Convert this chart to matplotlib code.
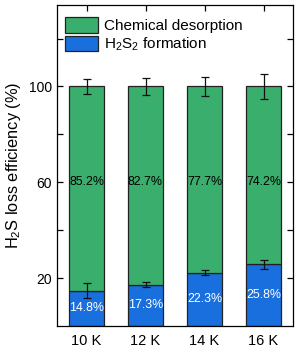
import matplotlib
matplotlib.use("Agg")
import matplotlib.pyplot as plt
import numpy as np

plt.rcParams['font.family'] = ['Liberation Sans', 'DejaVu Sans']
plt.rcParams['mathtext.fontset'] = 'custom'
plt.rcParams['mathtext.rm'] = 'Liberation Sans'
plt.rcParams['mathtext.it'] = 'Liberation Sans:italic'

categories = ["10 K", "12 K", "14 K", "16 K"]
h2s2_formation = [14.8, 17.3, 22.3, 25.8]
chemical_desorption = [85.2, 82.7, 77.7, 74.2]
h2s2_err = [3.3, 1.0, 1.2, 1.9]
total_err = [3.1, 3.7, 4.1, 5.2]

green = "#3aae6c"
blue = "#1a6fde"

fig = plt.figure(figsize=(2.96, 3.49), dpi=100)
ax = fig.add_axes([57/296, 1 - 326/349, (293-57)/296, (326-5)/349])

x = np.arange(1, len(categories) + 1)
w = 0.6
ax.bar(x, h2s2_formation, width=w, color=blue, edgecolor="#222222", linewidth=0.9,
       label="H$_2$S$_2$ formation", zorder=2)
ax.bar(x, chemical_desorption, width=w, bottom=h2s2_formation, color=green,
       edgecolor="#222222", linewidth=0.9, label="Chemical desorption", zorder=2)

tot = np.array(h2s2_formation) + np.array(chemical_desorption)
ax.errorbar(x, h2s2_formation, yerr=h2s2_err, fmt="none", ecolor="#111111",
            elinewidth=0.9, capsize=3, capthick=0.9, zorder=3)
ax.errorbar(x, tot, yerr=total_err, fmt="none", ecolor="#111111",
            elinewidth=0.9, capsize=3, capthick=0.9, zorder=3)

for xi, b, c in zip(x, h2s2_formation, chemical_desorption):
    ax.text(xi, b / 2, f"{b:.1f}%", ha="center", va="center", color="white",
            fontsize=8.9, zorder=4)
    ax.text(xi, 60, f"{c:.1f}%", ha="center", va="center", color="black",
            fontsize=8.9, zorder=4)

ax.set_xlim(0.5, 4.5)
ax.set_ylim(0, 134)
ax.set_xticks(x)
ax.set_xticklabels(categories)
ax.set_yticks([20, 60, 100])
ax.set_yticks([40, 80, 120], minor=True)
ax.tick_params(axis="both", which="both", direction="in", top=True, right=True,
               labelsize=10, length=4, width=0.9)
ax.tick_params(axis="x", labelsize=10.5, pad=6)
for s in ax.spines.values():
    s.set_linewidth(0.9)
    s.set_zorder(5)
ax.set_ylabel("H$_2$S loss efficiency (%)", fontsize=11.8, labelpad=4)

handles, labels = ax.get_legend_handles_labels()
ax.legend(handles[::-1], labels[::-1], loc="upper left", frameon=False,
          bbox_to_anchor=(0.0, 1 - 4/321),
          fontsize=11, handlelength=2.15, handleheight=1.15, handletextpad=0.35,
          labelspacing=0.18, borderaxespad=0.25, borderpad=0.3)

fig.savefig("out.png", dpi=100)
